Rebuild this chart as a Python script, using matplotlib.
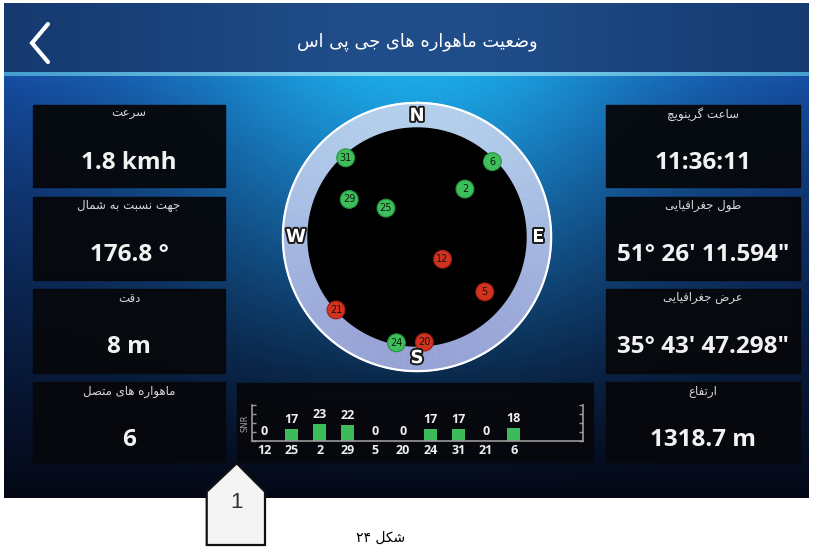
import numpy as np
import matplotlib
matplotlib.use('Agg')
from matplotlib import pyplot as plt
from matplotlib.patches import Rectangle, Polygon
import matplotlib.patheffects as pe

W, H = 815, 547

# ---- data ----
title_text = 'وضعیت ماهواره های جی پی اس'
left_labels = ['سرعت', 'جهت نسبت به شمال', 'دقت', 'ماهواره های متصل']
left_values = ['1.8 kmh', '176.8 °', '8 m', '6']
right_labels = ['ساعت گرینویچ', 'طول جغرافیایی', 'عرض جغرافیایی', 'ارتفاع']
right_values = ['11:36:11', '51° 26\' 11.594"', '35° 43\' 47.298"', '1318.7 m']

# sky plot: satellite id, azimuth (deg from north), elevation (deg)
sat_ids = [31, 6, 2, 29, 25, 12, 5, 21, 24, 20]
sat_azimuth = [318, 45, 45, 299, 313, 131, 129, 228, 191, 176]
sat_elevation = [2, 2, 34, 26, 55, 62, 18, 0, 1, 3]

# SNR bars
snr_ids = [12, 25, 2, 29, 5, 20, 24, 31, 21, 6]
snr_values = [0, 17, 23, 22, 0, 0, 17, 17, 0, 18]

compass_labels = ['N', 'E', 'S', 'W']
compass_angles = [0, 90, 180, 270]

caption_text = 'شکل ۲۴'
callout_text = '1'

# ---- minimal persian shaping (matplotlib has no RTL / joining) ----
FORMS = {
    '\u0627': (0xFE8D, 0xFE8E, None, None),
    '\u0628': (0xFE8F, 0xFE90, 0xFE91, 0xFE92),
    '\u067E': (0xFB56, 0xFB57, 0xFB58, 0xFB59),
    '\u062A': (0xFE95, 0xFE96, 0xFE97, 0xFE98),
    '\u062C': (0xFE9D, 0xFE9E, 0xFE9F, 0xFEA0),
    '\u0686': (0xFB7A, 0xFB7B, 0xFB7C, 0xFB7D),
    '\u062F': (0xFEA9, 0xFEAA, None, None),
    '\u0631': (0xFEAD, 0xFEAE, None, None),
    '\u0632': (0xFEAF, 0xFEB0, None, None),
    '\u0633': (0xFEB1, 0xFEB2, 0xFEB3, 0xFEB4),
    '\u0634': (0xFEB5, 0xFEB6, 0xFEB7, 0xFEB8),
    '\u0635': (0xFEB9, 0xFEBA, 0xFEBB, 0xFEBC),
    '\u0636': (0xFEBD, 0xFEBE, 0xFEBF, 0xFEC0),
    '\u0637': (0xFEC1, 0xFEC2, 0xFEC3, 0xFEC4),
    '\u0639': (0xFEC9, 0xFECA, 0xFECB, 0xFECC),
    '\u063A': (0xFECD, 0xFECE, 0xFECF, 0xFED0),
    '\u0641': (0xFED1, 0xFED2, 0xFED3, 0xFED4),
    '\u0642': (0xFED5, 0xFED6, 0xFED7, 0xFED8),
    '\u06A9': (0xFB8E, 0xFB8F, 0xFB90, 0xFB91),
    '\u06AF': (0xFB92, 0xFB93, 0xFB94, 0xFB95),
    '\u0644': (0xFEDD, 0xFEDE, 0xFEDF, 0xFEE0),
    '\u0645': (0xFEE1, 0xFEE2, 0xFEE3, 0xFEE4),
    '\u0646': (0xFEE5, 0xFEE6, 0xFEE7, 0xFEE8),
    '\u0647': (0xFEE9, 0xFEEA, 0xFEEB, 0xFEEC),
    '\u0648': (0xFEED, 0xFEEE, None, None),
    '\u06CC': (0xFBFC, 0xFBFD, 0xFBFE, 0xFBFF),
}


def shape_word(word):
    word = word.replace('\u064A', '\u06CC').replace('\u0643', '\u06A9')
    out = []
    for i, c in enumerate(word):
        if c not in FORMS:
            out.append(c)
            continue
        prev = word[i - 1] if i > 0 else None
        nxt = word[i + 1] if i + 1 < len(word) else None
        jp = prev in FORMS and FORMS[prev][2] is not None
        jn = nxt in FORMS and FORMS[c][2] is not None
        iso, fin, ini, med = FORMS[c]
        if jp and jn:
            out.append(chr(med))
        elif jp:
            out.append(chr(fin))
        elif jn:
            out.append(chr(ini))
        else:
            out.append(chr(iso))
    return ''.join(reversed(out))


def fa(text):
    words = []
    for w in text.split(' '):
        if w.isdigit():
            words.append(w)
        else:
            words.append(shape_word(w))
    return ' '.join(reversed(words))


# ---- background (screen) ----
yy, xx = np.mgrid[0:H, 0:W].astype(float)
img = np.ones((H, W, 3))
t = np.clip((yy - 76) / (497 - 76), 0, 1)[..., None]
u = (xx - 415) / 415
glow = (np.exp(-(u / 0.6) ** 2)[..., None]) * (1 - t) ** 1.6
top_c = np.array([22, 72, 160]) / 255
bot_c = np.array([4, 8, 22]) / 255
cyan = np.array([28, 170, 230]) / 255
base = top_c * (1 - t ** 0.75) + bot_c * t ** 0.75
body = base * (1 - glow) + cyan * glow
screen = (xx >= 4) & (xx <= 808) & (yy >= 3) & (yy <= 497)
img[screen] = body[screen]
hg = np.exp(-(u / 0.7) ** 2)[..., None]
header = np.array([20, 55, 108]) / 255 * (1 - hg) + np.array([32, 78, 138]) / 255 * hg
hmask = screen & (yy < 72)
img[hmask] = header[hmask]
lmask = screen & (yy >= 72) & (yy < 76)
line_c = np.array([60, 150, 200]) / 255 * (1 - hg) + np.array([130, 215, 240]) / 255 * hg
img[lmask] = line_c[lmask]

fig = plt.figure(figsize=(W / 100, H / 100), dpi=100)
ax = fig.add_axes([0, 0, 1, 1])
ax.imshow(img, extent=(0, W, H, 0), interpolation='bilinear')
ax.set_xlim(0, W)
ax.set_ylim(H, 0)
ax.axis('off')

# header
ax.plot([48, 32, 48], [24, 43, 62], color='white', lw=3, solid_capstyle='round',
        solid_joinstyle='miter')
ax.text(417, 42, fa(title_text), color='white', fontsize=12.8, ha='center',
        va='center', family='DejaVu Sans')

# info panels
rows = [(105, 187), (197, 280), (289, 373), (382, 462)]
cols = [((33, 225), left_labels, left_values), ((606, 800), right_labels, right_values)]
for (x0, x1), labels, values in cols:
    for (y0, y1), lab, val in zip(rows, labels, values):
        ax.add_patch(Rectangle((x0, y0), x1 - x0, y1 - y0, color='#06080c', alpha=0.96))
        xc = (x0 + x1) / 2
        ax.text(xc, y0 + 9, fa(lab), color='#d8d8d8', fontsize=8.5, ha='center',
                va='center', family='DejaVu Sans')
        ax.text(xc, y0 + 58, val, color='#f2f2f2', fontsize=17.5, ha='center',
                va='center', family='Open Sans', fontweight='bold')

# SNR panel background
ax.add_patch(Rectangle((237, 383), 356, 79, color='#06080c', alpha=0.96))

# callout and caption (outside the screen)
ax.add_patch(Polygon([(206.7, 545), (206.7, 491.7), (236.7, 463.3), (265, 491.7), (265, 545)],
                     closed=True, facecolor='#f4f4f4', edgecolor='#111111', lw=1.6))
ax.text(236.5, 503, callout_text, fontsize=16, color='#333333', ha='center', va='center',
        family='Liberation Sans')
ax.text(381, 545, fa(caption_text), fontsize=10, color='black', ha='center', va='bottom',
        family='DejaVu Sans')

# ---- sky plot ----
R_OUT = 90 * 135 / 109
axp = fig.add_axes([282 / W, (H - 372) / H, 270 / W, 270 / H], projection='polar')
axp.set_theta_zero_location('N')
axp.set_theta_direction(-1)
axp.set_ylim(0, R_OUT)
axp.axis('off')
n = 120
centers = np.arange(n) * 2 * np.pi / n
f = ((1 - np.cos(centers)) / 2)[:, None]
ring_cols = np.array([180, 207, 236]) / 255 * (1 - f) + np.array([152, 163, 214]) / 255 * f
axp.bar(centers, R_OUT - 90, width=2 * np.pi / n, bottom=90, color=ring_cols,
        edgecolor=ring_cols, linewidth=0.6, zorder=1)
th = np.linspace(0, 2 * np.pi, 361)
axp.fill(th, np.full_like(th, 90), color='black', zorder=2)
axp.plot(th, np.full_like(th, R_OUT - 0.7), color='white', lw=1.6, clip_on=False, zorder=3)
for lab, ang in zip(compass_labels, compass_angles):
    axp.text(np.deg2rad(ang), 100, lab, color='white', fontsize=13, fontweight='bold',
             ha='center', va='center', zorder=6, family='DejaVu Sans',
             path_effects=[pe.withStroke(linewidth=2.8, foreground='#1a1a1a')])

snr_of = dict(zip(snr_ids, snr_values))
theta = np.deg2rad(sat_azimuth)
rad = 90 - np.array(sat_elevation)
used = [snr_of[s] > 0 for s in sat_ids]
face = ['#3fbf5c' if ok else '#d2321f' for ok in used]
edge = ['#27923f' if ok else '#9c1f14' for ok in used]
axp.scatter(theta, rad, s=165, c=face, edgecolors=edge, linewidths=0.8, zorder=4, clip_on=False)
for th_i, r_i, sid in zip(theta, rad, sat_ids):
    axp.text(th_i, r_i, str(sid), fontsize=7, color='#0d1a0d', ha='center', va='center',
             zorder=5)

# ---- SNR bar chart ----
axs = fig.add_axes([252 / W, (H - 441) / H, (583 - 252) / W, (441 - 405) / H])
axs.set_facecolor('none')
x = np.arange(len(snr_ids))
axs.bar(x, snr_values, width=0.47, color='#3dbb5a')
for xi, v in zip(x, snr_values):
    axs.annotate(str(v), (xi, v), xytext=(0, 7), textcoords='offset points',
                 ha='center', va='center', color='#f0f0f0', fontsize=9,
                 fontweight='bold', family='Open Sans')
axs.set_xlim(-0.44, 11.5)
axs.set_ylim(0, 50)
axs.set_xticks(x)
axs.set_xticklabels([str(s) for s in snr_ids], color='#f0f0f0', fontsize=9,
                    fontweight='bold', family='Open Sans')
axs.tick_params(axis='x', length=0, pad=2)
axs.set_yticks([0, 12.5, 25, 37.5, 50])
axs.tick_params(axis='y', direction='in', length=3, color='#9a9a9a', width=1,
                left=True, right=True, labelleft=False)
for side in ['left', 'right', 'bottom']:
    axs.spines[side].set_color('#9a9a9a')
    axs.spines[side].set_linewidth(1.2)
axs.spines['top'].set_visible(False)
axs.set_ylabel('SNR', color='#a0a0a0', fontsize=6, labelpad=2)

fig.savefig('out.png', dpi=100)
